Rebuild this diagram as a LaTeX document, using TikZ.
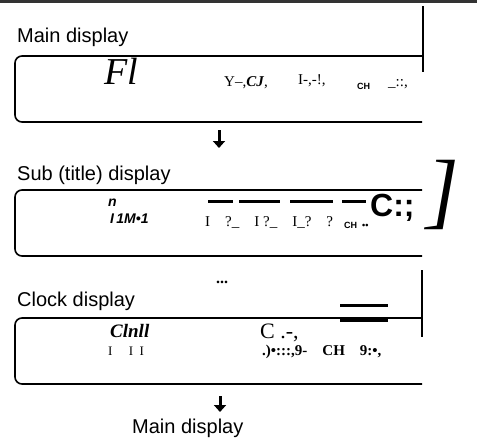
\documentclass[tikz,border=0pt]{standalone}
\usepackage{fontspec}
\setmainfont{Liberation Serif}
\setsansfont{Liberation Sans}
\usetikzlibrary{arrows.meta, positioning}
\tikzstyle{title} = [font=\sffamily\fontsize{20}{22}\selectfont, inner sep=0pt, anchor=base west]
\tikzstyle{panel} = [line width=1.6pt, rounded corners=7pt]
\tikzstyle{flow} = [line width=3pt, -{Triangle[length=7pt, width=12pt]}]
\tikzstyle{glyph} = [inner sep=0pt, anchor=base west, font=\fontsize{15}{15}\selectfont]

\begin{document}
\begin{tikzpicture}[x=1pt, y=-1pt]
		\useasboundingbox (0,0) rectangle (477,437);
		\fill[black!80] (0,0) rectangle (477,3);
		
		% main display
		\node [title] (main) at (17,42) {Main display};
		\draw[panel] (422,56) -- (15,56) -- (15,122) -- (422,122);
		\draw[line width=1.8pt] (423,6) -- (423,72);
		\node [glyph, font=\itshape\fontsize{38}{38}\selectfont] (fl) at (104,84) {Fl};
		\node [glyph] (m1) at (224,86) {Y--,\textbf{\textit{CJ}},};
		\node [glyph] (m2) at (298,84) {I-,-!,};
		\node [glyph, font=\sffamily\bfseries\fontsize{9}{9}\selectfont] (m3) at (357,89) {CH};
		\node [glyph] (m4) at (388,86) {\_::,};
		
		\coordinate (arr1) at (219,130);
		\coordinate (arr1e) at (219,148);
		\draw[flow] (arr1) -- (arr1e);
		
		% sub (title) display
		\node [title] (sub) at (17,180) {Sub (title) display};
		\draw[panel] (422,190) -- (15,190) -- (15,256) -- (422,256);
		\node [glyph, font=\sffamily\bfseries\itshape\fontsize{14}{14}\selectfont] (s0) at (108,206) {n};
		\node [glyph, font=\sffamily\bfseries\itshape\fontsize{14}{14}\selectfont] (s1) at (110,223) {I\,1M•1};
		\foreach \a/\b in {208/233, 239/280, 290/333, 342/366}
			\draw[line width=3pt] (\a,201) -- (\b,201);
		\node [glyph, font=\sffamily\bfseries\fontsize{32}{32}\selectfont] (s2) at (370,216) {C:;};
		\node [glyph, font=\itshape\fontsize{84}{84}\selectfont] (s3) at (426,218) {]};
		\node [glyph] (s4) at (205,226) {I\quad?\_\quad I ?\_\quad I\_?\quad ?};
		\node [glyph, font=\sffamily\bfseries\fontsize{9}{9}\selectfont] (s5) at (344,228) {CH\; ••};
		
		\node [font=\bfseries\fontsize{16}{16}\selectfont, inner sep=0pt] (dots) at (222,282) {...};
		\draw[line width=1.6pt] (422,270) -- (422,337);
		
		% clock display
		\node [title] (clock) at (17,306) {Clock display};
		\draw[panel] (422,318) -- (15,318) -- (15,384) -- (422,384);
		\node [glyph, font=\bfseries\itshape\fontsize{19}{19}\selectfont] (c1) at (110,337) {Clnll};
		\node [glyph, font=\fontsize{13}{13}\selectfont] (c2) at (108,355) {I\quad\ I\ \ I};
		\node [glyph, font=\fontsize{22}{22}\selectfont] (c3) at (260,338) {C .-,};
		\draw[line width=3pt] (340,305) -- (388,305);
		\draw[line width=3pt] (340,320) -- (388,320);
		\node [glyph, font=\bfseries\fontsize{15}{15}\selectfont] (c4) at (262,355) {.)•:::,9-\quad CH\quad 9:•,};
		
		\coordinate (arr2) at (220,396);
		\coordinate (arr2e) at (220,412);
		\draw[flow] (arr2) -- (arr2e);
		\node [title] (back) at (132,433) {Main display};
		
	\end{tikzpicture}
\end{document}
